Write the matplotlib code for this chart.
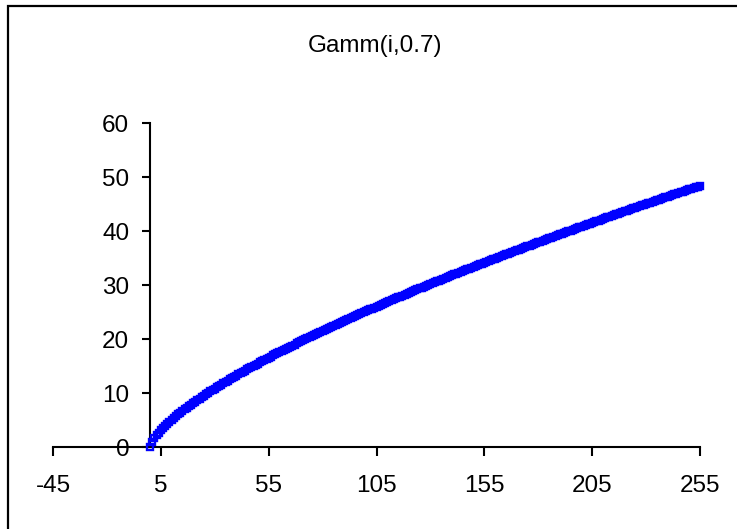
import matplotlib
matplotlib.use("Agg")
import matplotlib.pyplot as plt
from matplotlib.patches import Rectangle

plt.rcParams['font.family'] = ['Liberation Sans', 'DejaVu Sans']
plt.rcParams['axes.unicode_minus'] = False

title = "Gamm(i,0.7)"

# input level i and the corresponding output value
levels = list(range(256))
values = [
    0.00, 1.00, 1.62, 2.16, 2.64, 3.09, 3.51, 3.90, 4.29, 4.66,
    5.01, 5.36, 5.69, 6.02, 6.34, 6.66, 6.96, 7.27, 7.56, 7.85,
    8.14, 8.42, 8.70, 8.98, 9.25, 9.52, 9.78, 10.05, 10.30, 10.56,
    10.81, 11.07, 11.31, 11.56, 11.80, 12.05, 12.29, 12.52, 12.76, 12.99,
    13.23, 13.46, 13.69, 13.91, 14.14, 14.36, 14.59, 14.81, 15.03, 15.25,
    15.46, 15.68, 15.89, 16.11, 16.32, 16.53, 16.74, 16.95, 17.16, 17.36,
    17.57, 17.77, 17.98, 18.18, 18.38, 18.58, 18.78, 18.98, 19.18, 19.37,
    19.57, 19.76, 19.96, 20.15, 20.35, 20.54, 20.73, 20.92, 21.11, 21.30,
    21.49, 21.67, 21.86, 22.05, 22.23, 22.42, 22.60, 22.79, 22.97, 23.15,
    23.33, 23.51, 23.69, 23.87, 24.05, 24.23, 24.41, 24.59, 24.77, 24.94,
    25.12, 25.29, 25.47, 25.64, 25.82, 25.99, 26.16, 26.34, 26.51, 26.68,
    26.85, 27.02, 27.19, 27.36, 27.53, 27.70, 27.87, 28.04, 28.20, 28.37,
    28.54, 28.70, 28.87, 29.04, 29.20, 29.37, 29.53, 29.69, 29.86, 30.02,
    30.18, 30.35, 30.51, 30.67, 30.83, 30.99, 31.15, 31.31, 31.47, 31.63,
    31.79, 31.95, 32.11, 32.27, 32.42, 32.58, 32.74, 32.89, 33.05, 33.21,
    33.36, 33.52, 33.67, 33.83, 33.98, 34.14, 34.29, 34.45, 34.60, 34.75,
    34.90, 35.06, 35.21, 35.36, 35.51, 35.66, 35.82, 35.97, 36.12, 36.27,
    36.42, 36.57, 36.72, 36.87, 37.02, 37.16, 37.31, 37.46, 37.61, 37.76,
    37.90, 38.05, 38.20, 38.35, 38.49, 38.64, 38.78, 38.93, 39.08, 39.22,
    39.37, 39.51, 39.66, 39.80, 39.94, 40.09, 40.23, 40.38, 40.52, 40.66,
    40.81, 40.95, 41.09, 41.23, 41.38, 41.52, 41.66, 41.80, 41.94, 42.08,
    42.22, 42.36, 42.50, 42.64, 42.78, 42.92, 43.06, 43.20, 43.34, 43.48,
    43.62, 43.76, 43.90, 44.04, 44.17, 44.31, 44.45, 44.59, 44.73, 44.86,
    45.00, 45.14, 45.27, 45.41, 45.55, 45.68, 45.82, 45.95, 46.09, 46.23,
    46.36, 46.50, 46.63, 46.77, 46.90, 47.03, 47.17, 47.30, 47.44, 47.57,
    47.70, 47.84, 47.97, 48.10, 48.24, 48.37,
]

x_ticks = [-45, 5, 55, 105, 155, 205, 255]
y_ticks = [0, 10, 20, 30, 40, 50, 60]

W, H = 737, 529
fig = plt.figure(figsize=(W / 100, H / 100), dpi=100)
fig.patch.set_facecolor("white")

# chart frame (runs off the right and bottom edges)
fig.patches.append(Rectangle((8 / W, -0.05), 1.1, 1 - 6 / H + 0.05,
                             transform=fig.transFigure, fill=False,
                             edgecolor="black", linewidth=1.6, zorder=0))

ax = fig.add_axes([53 / W, 1 - 447 / H, 647 / W, 324 / H])
ax.set_facecolor("none")

ax.plot(levels, values, linestyle="none", marker="s", markersize=4.6,
        markerfacecolor="none", markeredgecolor="#0000FF",
        markeredgewidth=1.7, clip_on=False, zorder=3)

ax.set_xlim(-45, 255)
ax.set_ylim(0, 60)
ax.set_xticks(x_ticks)
ax.set_yticks(y_ticks)

for side in ("top", "right"):
    ax.spines[side].set_visible(False)
ax.spines["left"].set_position(("data", 0))
for side in ("left", "bottom"):
    ax.spines[side].set_linewidth(1.5)
    ax.spines[side].set_color("black")

ax.tick_params(axis="x", direction="out", length=6.5, width=1.5,
               labelsize=17.5, pad=14)
ax.tick_params(axis="y", direction="out", length=6, width=1.5,
               labelsize=17.5, pad=9)

fig.text(375 / W, 1 - 52 / H, title, ha="center", va="baseline",
         fontsize=17.5)

fig.savefig("out.png", dpi=100, facecolor="white")
